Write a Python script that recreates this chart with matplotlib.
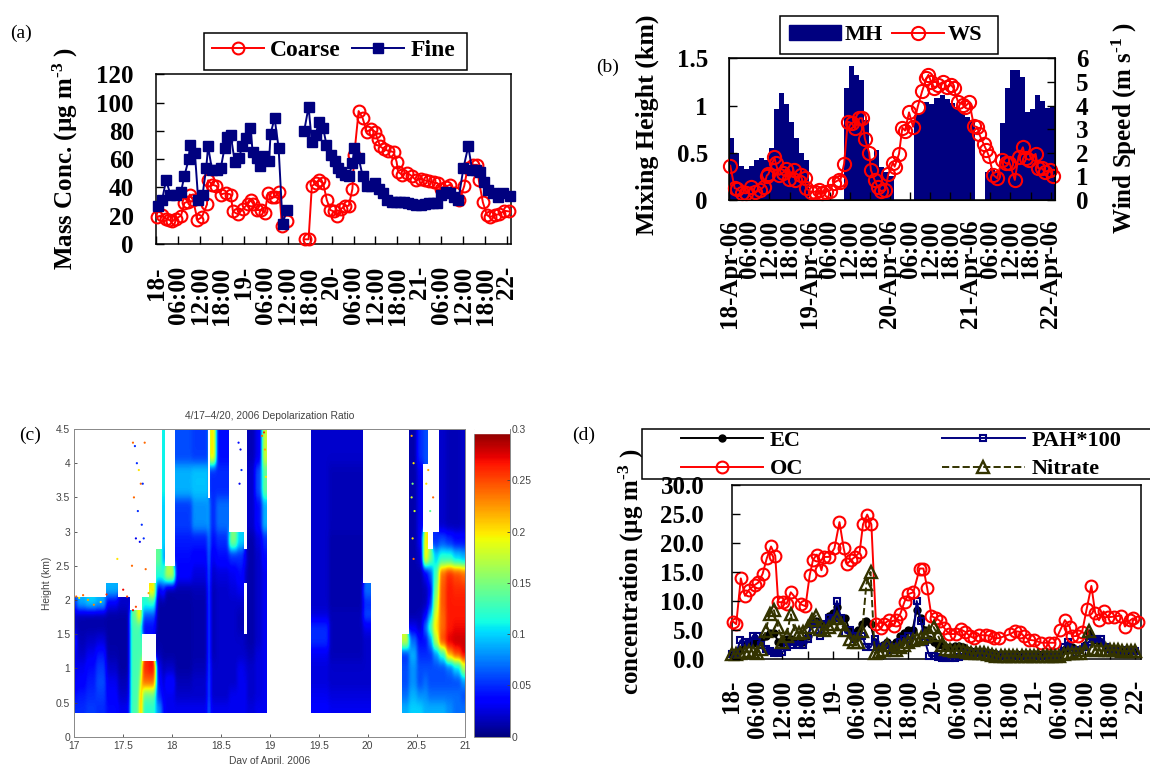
import numpy as np
import matplotlib
matplotlib.use("Agg")
import matplotlib.pyplot as plt
from matplotlib.patches import Rectangle, Patch

W, H = 1150, 764
plt.rcParams['font.family'] = ['Liberation Serif', 'DejaVu Sans']
plt.rcParams['font.weight'] = 'bold'
plt.rcParams['mathtext.fontset'] = 'custom'
plt.rcParams['mathtext.rm'] = 'Liberation Serif:bold'
plt.rcParams['mathtext.default'] = 'regular'

NAVY = '#00007F'
RED = '#FF0000'
OLIVE = '#333300'
n = np.nan

# ---------- panel (a)
FINE_H = [.5,1.6,2.7,3.9,5.4,6.8,7.7,8.9,9.2,10.6,11.5,12.7,13.7,14.2,15.3,16.7,17.7,18.7,19.5,20.4,
          21.5,22.7,23.5,24.6,25.8,26.4,27.5,28.5,29.5,30.9,31.3,32.4,33.5,34.6,35.7,n,40.5,41.7,42.6,43.6,
          44.5,45.7,46.6,47.8,48.8,49.7,50.7,51.6,52.7,53.7,54.2,55.4,56.5,57.6,58.8,59.9,61,62.2,63.3,64.4,
          65.6,66.7,67.8,69,70.1,71.2,72.4,73.5,74.6,75.8,76.9,78,79.2,80.3,81.4,82.7,84.1,85.4,86.5,87.6,
          88.6,89.8,90.8,92.2,93.6,95,96.7]
FINE_V = [27,31,45,35,35,37,48,60,70,64,31,35,54,69,52,52,54,68,76,77,
          58,61,69,75,82,65,61,55,62,59,78,89,68,14,24,n,80,97,72,77,
          86,82,70,63,59,54,51,49,48,57,68,61,48,41,41,43,39,36,31,30,
          30,30,30,29,28,27.5,27.5,28,29,29,29,35,37,36,33,31,54,69,52,52,
          51,44,38,36,33,36,34]
COARSE_H = [.2,1.6,2.7,3.5,4.4,5.4,6.8,7.7,8.7,9.2,10.1,11.3,12.5,13.9,14.2,15.3,16.5,17.7,19,20.4,
            21,22.4,23.8,25,25.9,26.6,27.5,28.8,29.7,30.6,31.6,32.4,33.7,34.4,35.9,n,40.6,41.7,42.6,43.7,
            44.5,45.7,46.7,47.7,48.6,49.4,50.7,51.6,52.7,53.7,54.2,55.4,56.5,57.6,58.8,59.9,60.6,61.3,62.4,63.4,
            65,65.8,66.2,67.3,68.6,70,71.1,72.4,73.5,74.7,75.9,77,78,79.2,80.5,81.8,83,84.3,85.2,86.6,
            87.8,88.3,89.4,90.5,91.4,92.6,93.8,95.3,96.6]
COARSE_V = [19,20.5,18,17,16,18,20,29,30,35,31,17,19,28,45,42,41,35,36,35,
            23,21,25,28,31,28,24,24,22,36,33,33,37,13,16,n,3.3,3.3,41,43,
            45,43,31,24,23,20,25,27,27,39,63,94,89,79.5,81,79.5,74,69,67,66,
            65,58,51,49,50.5,48,45,46,45,44.5,43.5,43,39,40.5,42,36,31,41,53.5,56,
            56,45,29.5,20.5,19,20.5,21,23.5,23]

# ---------- panel (b)
MH_KM = [.66,.5,.36,.33,.36,.42,.44,.42,.55,.96,1.13,1.02,.83,.66,.5,.42,0,0,0,0,0,0,0,
         1.19,1.42,1.32,1.27,.85,.42,.53,.35,.3,.25,0,0,0,0,.9,.92,1.04,1.02,1.08,1.11,1.07,1.03,.98,
         .92,.88,.85,0,0,.3,.34,.3,.82,1.19,1.38,1.38,1.3,.93,.96,1.11,1.05,.97,1.0]
WS_H = [.3,1.6,2.3,3.7,5,6.4,7.7,9.1,10.3,11.2,11.7,13.5,13.9,14.9,16,16.9,17.7,19.2,19.7,21.3,
        22.6,22.9,24.3,25.6,26.7,27.7,28.8,30.1,31.2,32.7,33.1,34.3,35.4,36.6,37.5,38.9,39.7,40.5,41.8,42.3,
        43.4,44.3,45.3,46.6,47.5,48.9,49.4,50.7,51.7,52.5,53.7,54.9,56.3,57.6,58.9,59.5,60.3,61.3,62.4,63.8,
        65.1,66.3,67,68.3,69.9,70.4,71.7,73.1,74.1,74.7,76,76.8,77.5,78.9,80,81.4,82.7,83.7,85.3,86.4,
        87.7,88.5,89.6,91.5,92.3,93.3,94.4,95.7,96.7]
WS_V = [1.45,.5,.47,.31,.28,.54,.35,.42,.56,1.03,1.1,1.8,1.55,1.06,1.15,1.3,.87,1.27,.85,1.06,
        .95,.5,.35,.35,.42,.28,.35,.4,.73,.85,.78,1.53,3.32,3.25,3.04,3.46,3.46,2.6,2.0,1.27,
        .85,.56,.38,.42,1.09,1.58,1.41,1.95,3.06,2.94,3.71,3.1,3.95,4.6,5.15,5.3,5.0,4.76,4.87,5.0,
        4.8,4.87,4.73,4.17,4.03,3.95,4.14,3.13,3.08,2.78,2.36,2.12,1.88,1.06,.92,1.7,1.55,1.58,.85,1.84,
        2.23,1.76,1.7,1.95,1.34,1.34,1.2,1.27,1.0]

# ---------- panel (c)
DAY_EDGES = [17,17.03,17.12,17.22,17.32,17.45,17.57,17.64,17.67,17.69,17.76,17.83,17.9,17.93,18.03,18.2,18.37,18.39,18.45,
             18.58,18.66,18.73,18.76,18.85,18.92,18.97,19.42,19.6,19.95,20.03,20.35,20.42,20.5,20.57,20.62,20.67,20.73,20.8,
             20.87,20.95,21]
HEIGHT_EDGES = [.35,.5,.7,.9,1.1,1.3,1.5,1.7,1.85,2.05,2.25,2.5,2.75,3,3.5,4,4.5]
DEPOL = [
 [.05,.04,.03,.03,.03,.05,.02,.02,.05,n,n,n,n,n,n,n],
 [.05,.045,.035,.03,.02,.015,.012,.012,.09,n,n,n,n,n,n,n],
 [.055,.05,.045,.04,.03,.02,.012,.01,.1,n,n,n,n,n,n,n],
 [.05,.055,.06,.055,.045,.025,.012,.01,.09,n,n,n,n,n,n,n],
 [.04,.035,.03,.02,.012,.01,.01,.01,.03,.09,n,n,n,n,n,n],
 [.03,.02,.015,.01,.01,.01,.01,.01,.02,n,n,n,n,n,n,n],
 [.13,.13,.13,.13,.13,.13,.13,.14,n,n,n,n,n,n,n,n],
 [.14,.13,.13,.13,.13,.13,.13,.2,n,n,n,n,n,n,n,n],
 [.28,.28,.2,.14,.13,.13,.13,.22,n,n,n,n,n,n,n,n],
 [.12,.14,.24,.26,n,n,.04,.06,.12,n,n,n,n,n,n,n],
 [.12,.14,.24,.27,n,n,.04,.06,.12,.2,n,n,n,n,n,n],
 [.08,.05,.04,.03,.015,.01,.01,.01,.01,.03,.12,.14,n,n,n,n],
 [.04,.03,.02,.015,.01,.01,.01,.01,.01,.05,.12,.08,.1,.1,.11,.11],
 [.03,.03,.04,.02,.01,.01,.01,.01,.01,.01,.17,n,n,n,n,n],
 [.03,.02,.015,.01,.01,.01,.01,.01,.01,.012,.035,.04,.045,.055,.09,.06],
 [.03,.02,.02,.015,.012,.012,.012,.012,.012,.015,.025,.035,.045,.08,.095,.055],
 [.09,.09,.09,.09,.09,.09,.09,.09,.09,.09,.09,.09,.09,.09,n,n],
 [.03,.02,.02,.02,.015,.015,.015,.015,.015,.015,.02,.03,.04,.05,.05,.2],
 [.03,.02,.02,.02,.02,.02,.02,.02,.02,.02,.025,.04,.05,.07,.05,.04],
 [.03,.03,.02,.02,.02,.02,.02,.02,.02,.025,.03,.05,.15,n,n,n],
 [.03,.03,.03,.03,.02,.02,.015,.015,.02,.03,.04,.05,.1,n,n,n],
 [.03,.03,.03,.025,.02,.015,n,n,n,n,.02,.03,n,n,n,n],
 [.025,.02,.02,.02,.015,.012,.012,.012,.012,.012,.012,.012,.012,.02,.02,.015],
 [.03,.025,.025,.025,.025,.02,.02,.02,.02,.02,.02,.02,.025,.04,.06,.03],
 [.03,.03,.03,.03,.03,.03,.03,.03,.03,.03,.03,.04,.05,.09,.14,.18],
 [n]*16,
 [.035,.03,.025,.025,.03,.05,.05,.025,.02,.02,.02,.02,.02,.02,.02,.02],
 [.03,.025,.02,.02,.015,.015,.015,.015,.012,.012,.012,.012,.012,.015,.015,.02],
 [.03,.025,.02,.02,.02,.02,.03,.06,.05,.07,n,n,n,n,n,n],
 [n]*16,
 [.09,.07,.06,.06,.05,.18,n,n,n,n,n,n,n,n,n,n],
 [.1,.09,.08,.08,.09,.07,.03,.012,.012,.012,.012,.012,.012,.012,.012,.012],
 [.1,.08,.06,.06,.05,.04,.02,.015,.012,.012,.012,.02,.03,.03,.03,.05],
 [.09,.08,.07,.06,.05,.04,.07,.035,.015,.015,.03,.2,.2,n,n,.06],
 [.09,.07,.06,.06,.05,.08,.13,.09,.05,.035,.06,.15,n,n,n,n],
 [.09,.07,.06,.06,.08,.17,.2,.19,.17,.15,.13,.1,.05,n,n,n],
 [.09,.07,.06,.06,.12,.25,.24,.24,.245,.245,.24,.12,.06,.02,.02,.02],
 [.08,.07,.06,.07,.22,.275,.265,.265,.265,.265,.26,.12,.05,.015,.015,.015],
 [.07,.07,.06,.1,.25,.28,.27,.265,.265,.26,.25,.1,.04,.015,.015,.015],
 [.07,.06,.08,.17,.275,.28,.27,.265,.265,.26,.24,.09,.04,.02,.02,.02],
]
SPECK_D = [17.02,17.05,17.09,17.14,17.2,17.27,17.33,17.44,17.5,17.54,17.6,17.63,17.76,17.8,
           17.58,17.6,17.62,17.64,17.66,17.68,17.7,17.72,17.61,17.65,17.69,17.63,17.67,17.71,17.59,17.73,
           18.92,18.95,18.96,18.94,20.45,20.47,20.46,20.48,20.46,20.47,20.45,20.62,20.6,20.67,20.64,
           18.7,18.71,18.69,18.68]
SPECK_H = [2.05,2.03,2.07,2.0,1.93,1.97,2.08,2.6,2.15,2.05,1.85,1.9,2.1,2.15,
           4.5,4.3,4.25,4.0,3.9,3.7,3.7,4.3,3.5,3.3,3.1,2.9,2.85,2.9,2.5,2.45,
           4.4,4.2,3.8,4.45,4.4,4.0,3.7,3.3,2.9,2.6,3.5,3.9,3.7,3.5,3.3,
           4.2,3.9,3.7,4.3]
SPECK_V = [.24,.2,.24,.22,.23,.2,.26,.2,.27,.25,.27,.25,.22,.2,
           .2,.24,.05,.05,.2,.24,.05,.24,.24,.05,.05,.03,.03,.05,.24,.24,
           .24,.22,.2,.26,.22,.2,.15,.18,.2,.24,.18,.22,.2,.24,.14,
           .03,.05,.03,.04]

# ---------- panel (d)
D_HOURS = np.arange(97)
EC = [.8,1,1.5,2.5,2.8,2.8,2.8,3.5,4,4.5,4.5,3,2.8,3.5,3.5,3,3,3,4,6,6.5,6,6,7.5,8,9,7,7,5,4.5,5,6,6.5,6,3,2,2.5,3,2.5,3,
      4,4.5,5,5,8.5,7,5,3.5,3,2.5,2.5,2,2,2.2,2.2,2,1.5,1.3,1.2,1.2,1.2,1.1,1,.8,.8,.8,.8,.8,.8,.8,.8,.8,.8,.8,.8,.8,.8,.8,.8,
      1.5,2.5,2,1.5,1.8,2.5,4.5,3.2,3.2,3,2,1.5,1.5,1.5,1.4,1.4,1.4,1.4]
PAH = [.9,1,3.2,3,2.8,4,4,2.5,1.8,1.4,1,1,1.2,2,2.5,3,2.5,2.5,3.5,6,6,4,6,7,7,10,7,4.5,5,3.5,4,4,2,2,3.5,2,2,2.5,1.5,2,
       3,3.5,4,3,10,6.5,3,.5,.5,.3,.2,.2,.2,.2,.3,.8,1,1,1,1,1,1,.7,.7,.6,.6,.6,.5,.5,.5,.5,.5,.5,.5,.5,.5,.5,.5,.5,
       2,3,1.5,1,1.5,2,3,3.5,3.5,3.5,2,1.8,1.5,1.2,.8,1.5,1.5,1.4]
NITRATE = [.8,.9,1,1.2,1.3,1.2,1.1,1.7,4.8,7.8,8.4,5.5,3,4,7.7,4.7,4.4,4.7,5.5,6.8,7.5,5.2,5,5.5,6,7,6,5,3.5,3,3,4.8,12.9,15,1,1.2,1.6,2.4,1.6,1.6,
           2,2.4,3,3.3,3.5,3.7,4,4.6,5.5,4.2,2.4,1.8,1.5,1.4,1.5,1.3,1.2,1.1,1.1,1,1,.9,.7,.6,.6,.6,.6,.6,.6,.6,.6,.6,.6,.6,.6,.6,.6,.6,.6,
           .9,1,1,1,1,1.6,4.8,1.8,1.5,1.5,1.5,1.5,1.5,1.5,1.4,1.4,1.4,1.4]
OC_H = [.35,1,2.1,3.1,4,5.5,6.3,7.3,8.3,9.3,10.3,11,12.1,13,14,16.5,17.5,18.5,19.3,20.2,21.3,22,23.1,24.4,25.6,26.6,27.4,28.4,29.3,30.4,
        31.2,32.2,33.2,34.3,35.4,36.3,37.4,38.5,39.1,40.1,41.1,42,43.2,44.7,45.6,46.5,47.5,48.6,49.5,50.6,51.7,53.3,54.5,55.5,56.6,57.6,58.8,60.5,61.4,62.5,
        63.6,66.3,67.4,68.5,69.6,70.7,72,73.7,75.5,76.8,78.2,79.3,80.4,81,82.4,83.4,84.5,85.6,86.5,87.4,88.5,89.6,90.9,92.7,93.6,94.9,95.5,96.6]
OC_V = [6.4,6,13.9,10.9,11.9,12.8,13.2,14.7,17.4,19.4,17.8,9.8,9.8,9.5,11.5,9.4,9.1,14.4,17.1,18,15.3,17.6,17.6,19.1,23.6,19.1,16.4,17.1,17.6,18.4,
        23.2,24.9,23.2,6,5.4,6.1,6.7,5.7,6.7,7.8,9.9,11.2,11.5,15.6,15.6,12.2,7.4,7,6.6,5.3,4.3,4.3,5.1,4.7,4,3.6,4.1,4.1,4,3.6,
        3.6,4.3,4.8,4.7,3.9,3.3,3.2,2.8,2.8,2.8,5,6.7,5.6,3.9,4,4.7,8.7,12.6,8,6.7,8.2,7.2,7.3,7.5,5.6,6.7,7,6.4]

# ---------- shared axis labels
TICK_HOURS = list(range(0, 97, 6))
LABELS_SHORT = ['18-','06:00','12:00','18:00','19-','06:00','12:00','18:00','20-','06:00','12:00','18:00',
                '21-','06:00','12:00','18:00','22-']
LABELS_LONG = ['18-Apr-06','06:00','12:00','18:00','19-Apr-06','06:00','12:00','18:00','20-Apr-06','06:00','12:00','18:00',
               '21-Apr-06','06:00','12:00','18:00','22-Apr-06']
DAY_TICKS = [17,17.5,18,18.5,19,19.5,20,20.5,21]
DAY_LABELS = ['17','17.5','18','18.5','19','19.5','20','20.5','21']
HEIGHT_TICKS = [0,.5,1,1.5,2,2.5,3,3.5,4,4.5]
HEIGHT_LABELS = ['0','0.5','1','1.5','2','2.5','3','3.5','4','4.5']
CB_TICKS = [0,.05,.1,.15,.2,.25,.3]
CB_LABELS = ['0','0.05','0.1','0.15','0.2','0.25','0.3']

fig = plt.figure(figsize=(W/100, H/100), dpi=100, facecolor='white')

def px_axes(x0, y0, x1, y1):
    return fig.add_axes([x0/W, 1-y1/H, (x1-x0)/W, (y1-y0)/H])

def label_at(ax, box, text, px, py):
    x0, y0, x1, y1 = box
    ax.set_ylabel(text, fontsize=18, fontweight='bold', va='center', ha='center')
    ax.yaxis.set_label_coords((px-x0)/(x1-x0), 1-(py-y0)/(y1-y0))

def legend_box(ax, x0, y0, x1, y1):
    ax.add_patch(Rectangle((x0/W, 1-y1/H), (x1-x0)/W, (y1-y0)/H, transform=fig.transFigure,
                           facecolor='white', edgecolor='black', lw=1.1, clip_on=False, zorder=8))

def style_time_axis(ax, labels, pad):
    ax.set_xticks(TICK_HOURS)
    ax.set_xticklabels(labels, rotation=90, fontsize=18, fontweight='bold')
    ax.tick_params(axis='x', direction='in', length=6, width=1, pad=pad)
    for s in ax.spines.values():
        s.set_linewidth(1.1)

def smooth_grid(values, day_edges, height_edges, sx, sy):
    # expand the read cell table to pixels and soften it like the blurred original
    days = np.linspace(17, 21, 392)
    heights = np.linspace(0, 4.5, 308)
    z = np.full((heights.size, days.size), np.nan)
    table = np.array(values)
    ci = np.searchsorted(day_edges, days, side='right') - 1
    ri = np.searchsorted(height_edges, heights, side='right') - 1
    for j, c in enumerate(ci):
        c = min(c, table.shape[0]-1)
        for i, r in enumerate(ri):
            if 0 <= r < table.shape[1]:
                z[i, j] = table[c, r]
    mask = np.isnan(z)
    num = np.where(mask, 0.0, z)
    den = (~mask).astype(float)
    for axis, s in ((1, sx), (0, sy)):
        k = np.exp(-0.5*(np.arange(-3*int(s+1), 3*int(s+1)+1)/s)**2)
        k /= k.sum()
        num = np.apply_along_axis(lambda v: np.convolve(v, k, mode='same'), axis, num)
        den = np.apply_along_axis(lambda v: np.convolve(v, k, mode='same'), axis, den)
    out = num/np.maximum(den, 1e-6)
    out[mask] = np.nan
    return np.ma.masked_invalid(out)

LW = 1.4
# (a)
box = (156.2, 74.3, 511, 244)
ax = px_axes(*box)
l1, = ax.plot(COARSE_H, COARSE_V, '-o', color=RED, lw=LW, ms=8.5, mfc='none', mew=1.5, label='Coarse', zorder=3, clip_on=False)
l2, = ax.plot(FINE_H, FINE_V, '-s', color=NAVY, lw=LW, ms=6.5, mfc=NAVY, mec=NAVY, label='Fine', zorder=4, clip_on=False)
ax.set_xlim(0, 97.1); ax.set_ylim(0, 120)
ax.set_yticks([0,20,40,60,80,100,120])
style_time_axis(ax, LABELS_SHORT, 16)
ax.tick_params(axis='y', direction='in', length=6, width=1, pad=16, labelsize=18)
label_at(ax, box, 'Mass Conc. (µg m$^{\\text{-}3}$ )', 65, 158)
legend_box(ax, 204, 32.7, 466.6, 70)
ax.legend(handles=[l1, l2], loc='center left', bbox_to_anchor=(212/W, 1-50/H), bbox_transform=fig.transFigure,
          ncol=2, frameon=False, fontsize=17, handlelength=2.2, handletextpad=.25, columnspacing=.5,
          borderpad=0, borderaxespad=0).set_zorder(9)
fig.text(10/W, 1-33/H, '(a)', fontsize=14, fontweight='normal', va='center', ha='left')

# (b)
box = (728.6, 58.3, 1055, 200)
ax = px_axes(*box)
bars = ax.bar(np.arange(len(MH_KM))*1.5+.55, MH_KM, width=1.5, color=NAVY, linewidth=0, label='MH')
ax.set_xlim(-.2, 97.3); ax.set_ylim(0, 1.5)
ax.set_yticks([0,.5,1,1.5]); ax.set_yticklabels(['0','0.5','1','1.5'])
style_time_axis(ax, LABELS_LONG, 14)
ax.tick_params(axis='y', direction='in', length=6, width=1, pad=15, labelsize=18)
label_at(ax, box, 'Mixing Height (km)', 647, 125)
ax.yaxis.label.set_fontsize(18.6)
ax2 = ax.twinx()
l3, = ax2.plot(WS_H, WS_V, '-o', color=RED, lw=LW, ms=9.5, mfc='none', mew=1.5, label='WS', clip_on=False)
ax2.set_ylim(0, 6); ax2.set_yticks([0,1,2,3,4,5,6])
ax2.tick_params(axis='y', direction='in', length=6, width=1, pad=15, labelsize=18)
label_at(ax2, box, 'Wind Speed (m s$^{\\text{-}1}$ )', 1124, 128)
legend_box(ax2, 780, 16, 998, 53.7)
ax2.legend(handles=[Patch(color=NAVY, label='MH'), l3], loc='center left', bbox_to_anchor=(789/W, 1-35/H),
           bbox_transform=fig.transFigure, ncol=2, frameon=False, fontsize=16, handlelength=2.35,
           handletextpad=.15, columnspacing=.4, borderpad=0, borderaxespad=0).set_zorder(9)
fig.text(596/W, 1-67/H, '(b)', fontsize=14, fontweight='normal', va='center', ha='left')

# (c)
GREY = '#444444'
box = (74.3, 429, 465.4, 736.7)
ax = px_axes(*box)
grid = smooth_grid(DEPOL, DAY_EDGES, HEIGHT_EDGES, 1.6, 5.0)
mesh = ax.imshow(grid, origin='lower', extent=(17, 21, 0, 4.5), aspect='auto', cmap='jet', vmin=0, vmax=.3,
                 interpolation='nearest')
ax.scatter(SPECK_D, SPECK_H, c=SPECK_V, cmap='jet', vmin=0, vmax=.3, s=2.5, linewidths=0)
ax.set_xlim(17, 21); ax.set_ylim(0, 4.5)
ax.set_xticks(DAY_TICKS); ax.set_xticklabels(DAY_LABELS, fontfamily='Liberation Sans', fontweight='normal', fontsize=7.4, color=GREY)
ax.set_yticks(HEIGHT_TICKS); ax.set_yticklabels(HEIGHT_LABELS, fontfamily='Liberation Sans', fontweight='normal', fontsize=7.4, color=GREY)
ax.tick_params(direction='in', length=2.5, width=.6, color=GREY, pad=3)
for s in ax.spines.values():
    s.set_color('#888888'); s.set_linewidth(.7)
ax.set_title('4/17\u20134/20, 2006 Depolarization Ratio', fontfamily='Liberation Sans', fontweight='normal', fontsize=7.4,
             color=GREY, y=1.0, pad=7)
ax.set_xlabel('Day of April, 2006', fontfamily='Liberation Sans', fontweight='normal', fontsize=7.4, color=GREY, labelpad=3.5)
ax.set_ylabel('Height (km)', fontfamily='Liberation Sans', fontweight='normal', fontsize=7.4, color=GREY, labelpad=3)
cax = px_axes(474.3, 429, 509.6, 736.7)
cb = fig.colorbar(mesh, cax=cax)
cb.set_ticks(CB_TICKS); cb.set_ticklabels(CB_LABELS)
cax.axhspan(.2964, .3, color='white', zorder=5)
cax.tick_params(direction='in', length=2, width=.6, color=GREY, pad=1.5, labelsize=7.4, labelcolor=GREY)
for t in cax.get_yticklabels():
    t.set_fontfamily('Liberation Sans'); t.set_fontweight('normal')
cb.outline.set_edgecolor('#888888'); cb.outline.set_linewidth(.7)
fig.text(19/W, 1-435/H, '(c)', fontsize=14, fontweight='normal', va='center', ha='left')

# (d)
box = (732, 485, 1140.5, 659)
ax = px_axes(*box)
l_ec, = ax.plot(D_HOURS, EC, '-o', color='black', lw=LW, ms=5, label='EC', zorder=2, clip_on=False)
l_oc, = ax.plot(OC_H, OC_V, '-o', color=RED, lw=LW, ms=8.5, mfc='none', mew=1.5, label='OC', zorder=4, clip_on=False)
l_pah, = ax.plot(D_HOURS, PAH, '-s', color=NAVY, lw=LW, ms=5, mfc='none', mew=1.5, label='PAH*100', zorder=3, clip_on=False)
l_no3, = ax.plot(D_HOURS, NITRATE, '--^', color=OLIVE, lw=LW, ms=9, mfc='none', mew=1.7, label='Nitrate', zorder=5, clip_on=False)
ax.set_xlim(0, 97.3); ax.set_ylim(0, 30)
ax.set_yticks([0,5,10,15,20,25,30]); ax.set_yticklabels(['0.0','5.0','10.0','15.0','20.0','25.0','30.0'])
style_time_axis(ax, LABELS_SHORT, 15)
ax.tick_params(axis='y', direction='in', length=6, width=1, pad=20, labelsize=18)
label_at(ax, box, 'concentration (µg m$^{\\text{-}3}$ )', 631, 572)
ax.yaxis.set_zorder(12)
legend_box(ax, 642, 429, 1156, 479)
ax.legend(handles=[l_ec, l_oc, l_pah, l_no3], loc='center left', bbox_to_anchor=(681/W, 1-455/H),
          bbox_transform=fig.transFigure, ncol=2, frameon=False, fontsize=16, handlelength=3.7,
          handletextpad=.3, columnspacing=6.25, labelspacing=.35, borderpad=0, borderaxespad=0).set_zorder(9)
fig.text(572/W, 1-435/H, '(d)', fontsize=14, fontweight='normal', va='center', ha='left')

fig.savefig('out.png', dpi=100, facecolor='white')
